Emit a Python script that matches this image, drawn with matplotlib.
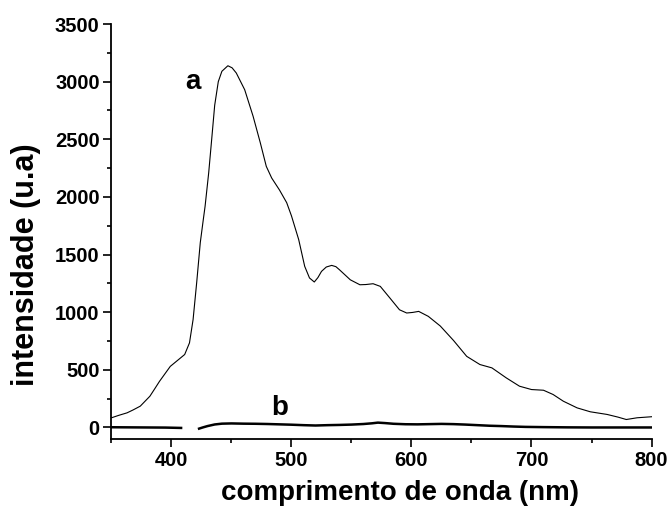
import numpy as np
import matplotlib.pyplot as plt
from matplotlib.ticker import MultipleLocator

plt.rcParams['font.family'] = ['Liberation Sans', 'DejaVu Sans']
plt.rcParams['font.weight'] = 'bold'

# curva a (espectro de emissao)
wl_a = [350, 356, 363, 368, 374, 382, 386, 390, 399, 406, 411, 415, 418, 421, 424,
        426.5, 428, 431, 433.5, 436, 439, 442, 447, 450.5, 454, 461, 468, 474, 479,
        483.5, 490, 496, 500, 506, 511, 515, 519, 522, 525, 529, 533.5, 537, 540,
        549, 557, 562, 568, 574, 582, 590, 596, 601, 606, 614, 624, 635, 646,
        657, 667, 679, 690, 700, 710, 718, 726.5, 738, 749, 763, 772, 779, 788, 800]
int_a = [84, 105, 127, 152, 185, 271, 335, 400, 530, 590, 633, 734, 936, 1257, 1604,
         1803, 1919, 2209, 2500, 2795, 3000, 3090, 3138, 3120, 3075, 2930, 2700, 2470, 2265,
         2164, 2060, 1950, 1835, 1630, 1398, 1297, 1262, 1300, 1354, 1392, 1406, 1395, 1368,
         1281, 1238, 1240, 1247, 1224, 1123, 1021, 993, 998, 1007, 964, 880, 755, 617,
         546, 517, 430, 358, 329, 323, 286, 228, 170, 136, 113, 90, 69, 84, 93]

# curva b (dois segmentos)
wl_b1 = [350, 365, 380, 395, 408]
int_b1 = [2, 1, 0, -1, -4]
wl_b2 = [423, 426, 430, 436, 442, 450, 460, 470, 480, 490, 500, 510, 520, 530,
         540, 550, 560, 567, 572, 578, 585, 595, 605, 615, 625, 635, 645, 655,
         665, 675, 685, 695, 710, 730, 750, 775, 800]
int_b2 = [-10, 0, 12, 26, 33, 35, 33, 32, 30, 27, 24, 20, 17, 20,
          22, 25, 30, 36, 42, 38, 32, 28, 27, 29, 31, 29, 25, 20,
          15, 12, 8, 5, 3, 1, 0, 0, 0]

fig = plt.figure(figsize=(6.72, 5.21), dpi=100)
ax = fig.add_axes([0.1659, 0.1574, 0.8036, 0.7965])

ax.plot(wl_a, int_a, color='black', lw=0.8)
ax.plot(wl_b1, int_b1, color='black', lw=1.8)
ax.plot(wl_b2, int_b2, color='black', lw=1.8)

ax.text(418, 3000, 'a', fontsize=20, fontweight='bold', ha='center', va='center')
ax.text(490, 165, 'b', fontsize=20, fontweight='bold', ha='center', va='center')

ax.set_xlim(350, 800)
ax.set_ylim(-100, 3500)
ax.xaxis.set_major_locator(MultipleLocator(100))
ax.xaxis.set_minor_locator(MultipleLocator(50))
ax.yaxis.set_major_locator(MultipleLocator(500))
ax.yaxis.set_minor_locator(MultipleLocator(250))
ax.set_yticks(np.arange(0, 3501, 500))

ax.spines['top'].set_visible(False)
ax.spines['right'].set_visible(False)
for s in ['left', 'bottom']:
    ax.spines[s].set_linewidth(1.3)
ax.tick_params(which='major', direction='out', length=5.5, width=1.2, labelsize=14.5, pad=3)
ax.tick_params(which='minor', direction='out', length=3, width=1.2)

ax.set_xlabel('comprimento de onda (nm)', fontsize=20, fontweight='bold')
ax.xaxis.set_label_coords(0.535, -0.1)
ax.set_ylabel('intensidade (u.a)', fontsize=22, fontweight='bold')
ax.yaxis.set_label_coords(-0.13, 0.42)

fig.savefig('out.png', dpi=100)
